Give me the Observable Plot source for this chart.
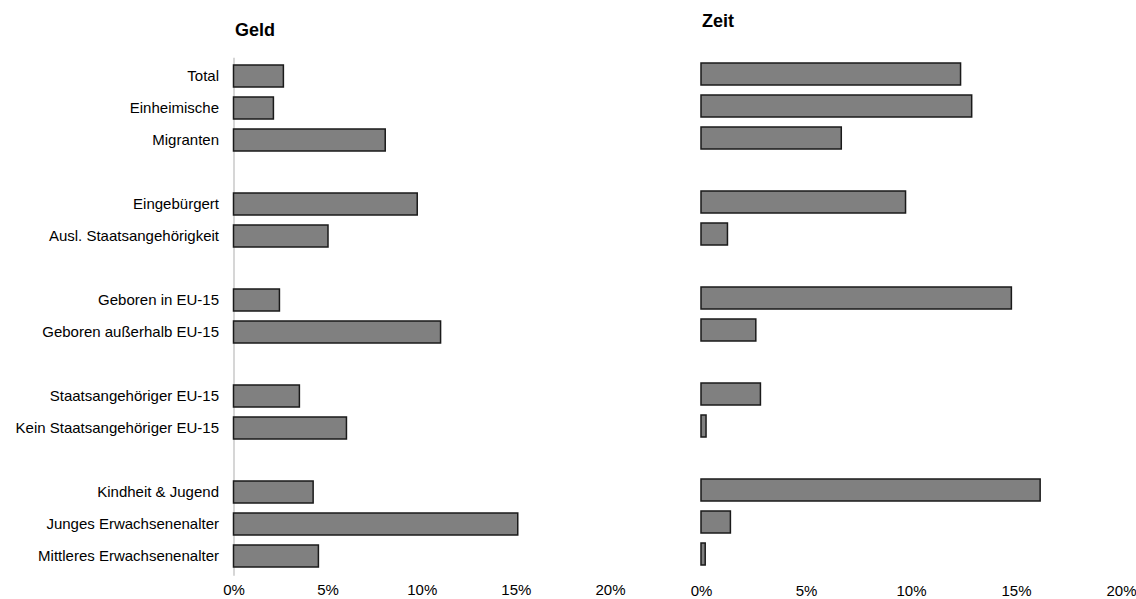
<!DOCTYPE html>
<html><head><meta charset="utf-8">
<script src="https://cdn.jsdelivr.net/npm/d3@7"></script>
<script src="https://cdn.jsdelivr.net/npm/@observablehq/plot@0.6"></script>
<style>
body{margin:0;background:#fff;}
#wrap{position:relative;width:1136px;height:599px;font-family:"Liberation Sans",Arial,sans-serif;color:#000;}
.title{position:absolute;font-weight:bold;font-size:18px;line-height:18px;white-space:nowrap;}
#left,#right{position:absolute;top:0;}
#left{left:0;}
#right{left:640px;}
</style></head><body>
<div id="wrap">
  <div class="title" style="left:235px;top:21px;">Geld</div>
  <div class="title" style="left:702px;top:12px;">Zeit</div>
  <div id="left"></div>
  <div id="right"></div>
</div>
<script>
const categories = ["Total","Einheimische","Migranten","Eingebürgert","Ausl. Staatsangehörigkeit","Geboren in EU-15","Geboren außerhalb EU-15","Staatsangehöriger EU-15","Kein Staatsangehöriger EU-15","Kindheit & Jugend","Junges Erwachsenenalter","Mittleres Erwachsenenalter"];
const groupSizes = [3, 2, 2, 2, 3];
const geld = [2.65, 2.12, 8.06, 9.76, 5.02, 2.44, 11.0, 3.5, 6.0, 4.23, 15.1, 4.51];
const zeit = [12.36, 12.89, 6.68, 9.74, 1.26, 14.78, 2.61, 2.83, 0.24, 16.15, 1.4, 0.2];
const xTicks = [0, 5, 10, 15, 20];

// band domain with empty gap rows between groups
const domain = [];
let k = 0;
groupSizes.forEach((n, g) => {
  for (let i = 0; i < n; i++) domain.push(categories[k++]);
  if (g < groupSizes.length - 1) domain.push("gap" + g);
});
const geldRows = categories.map((c, i) => ({category: c, value: geld[i]}));
const zeitRows = categories.map((c, i) => ({category: c, value: zeit[i]}));
const pct = d => d + "%";
const style = {fontFamily: '"Liberation Sans", Arial, sans-serif', fontSize: "15px", color: "#000", background: "transparent", overflow: "visible"};
const barStyle = {fill: "#808080", stroke: "#1a1a1a", strokeWidth: 1.5};

const left = Plot.plot({
  width: 640, height: 599,
  marginLeft: 233.5, marginRight: 30, marginTop: 59.7, marginBottom: 26.3,
  style,
  x: {domain: [0, 20]},
  y: {domain, paddingInner: 0.314, paddingOuter: 0.157},
  marks: [
    Plot.ruleX([0], {stroke: "#c8c8c8", strokeWidth: 1.5, insetTop: -2, insetBottom: -3}),
    Plot.barX(geldRows, {x: "value", y: "category", ...barStyle}),
    Plot.axisX({ticks: xTicks, tickFormat: pct, tickSize: 0, tickPadding: 11.5, label: null}),
    Plot.axisY({tickSize: 0, tickPadding: 15, label: null, tickFormat: d => d.startsWith("gap") ? "" : d})
  ]
});
document.getElementById("left").appendChild(left);

const right = Plot.plot({
  width: 496, height: 599,
  marginLeft: 61, marginRight: 15, marginTop: 53.2, marginBottom: 25,
  style,
  x: {domain: [0, 20]},
  y: {domain, axis: null, paddingInner: 0.324, paddingOuter: 0.162},
  marks: [
    Plot.barX(zeitRows, {x: "value", y: "category", ...barStyle}),
    Plot.axisX({ticks: xTicks, tickFormat: pct, tickSize: 0, tickPadding: 11, label: null})
  ]
});
document.getElementById("right").appendChild(right);
</script>
</body></html>
